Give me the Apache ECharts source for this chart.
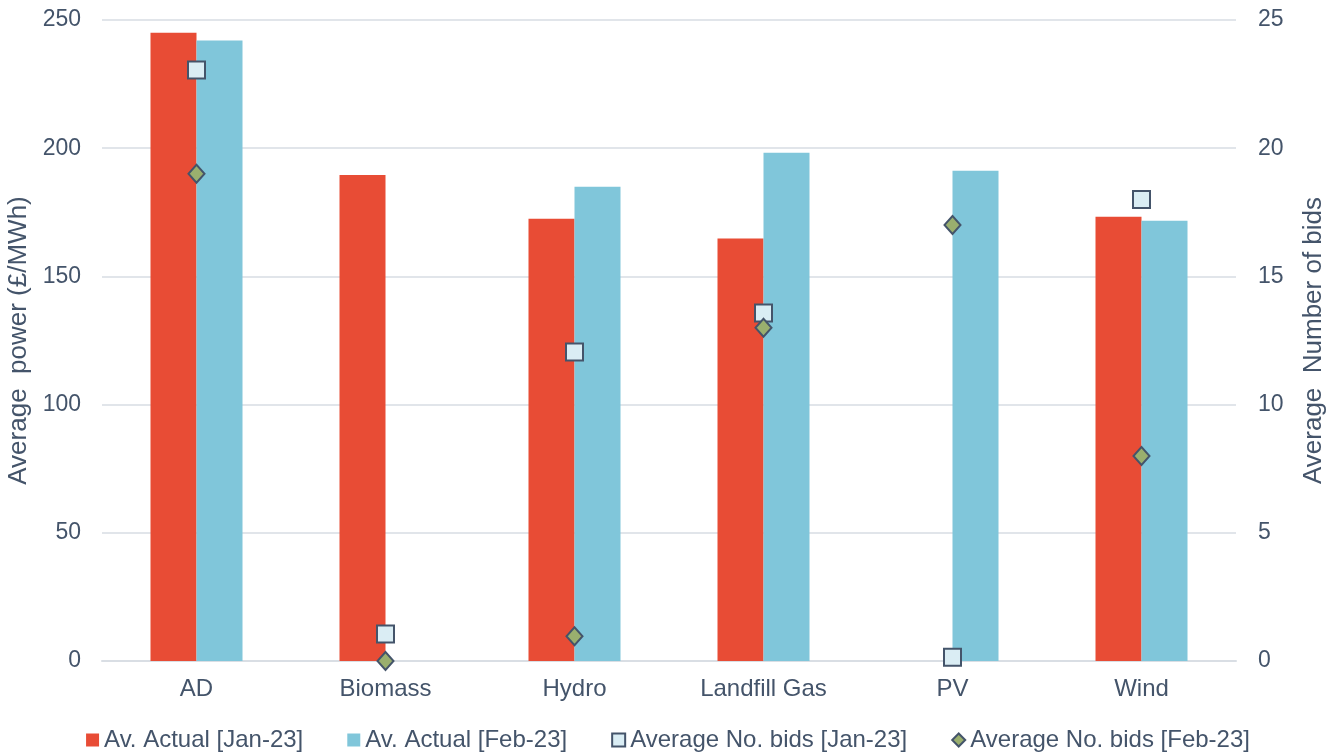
<!DOCTYPE html>
<html>
<head>
<meta charset="utf-8">
<script src="https://cdn.jsdelivr.net/npm/echarts@6/dist/echarts.min.js"></script>
<style>html,body{margin:0;padding:0;background:#fff;}#c{width:1336px;height:755px;}</style>
</head>
<body>
<div id="c"></div>
<script>
var categories = ['AD', 'Biomass', 'Hydro', 'Landfill Gas', 'PV', 'Wind'];
var actualJan = [245, 189.5, 172.5, 164.8, null, 173.3];
var actualFeb = [242, null, 185, 198.2, 191.2, 171.7];
var bidsJan = [23.05, 1.05, 12.05, 13.57, 0.15, 18.0];
var bidsFeb = [19.0, 0.0, 0.97, 13.0, 17.0, 8.0];
var leftTicks = {min: 0, max: 250, interval: 50};
var rightTicks = {min: 0, max: 25, interval: 5};

var txt = '#44546A';
var font = 'Liberation Sans';
var chart = echarts.init(document.getElementById('c'));
chart.setOption({
  animation: false,
  textStyle: {fontFamily: font},
  grid: {left: 102, right: 100, top: 20, bottom: 94, containLabel: false, outerBoundsMode: 'none'},
  legend: {
    top: 723, left: 'center', itemWidth: 13, itemHeight: 13, itemGap: 44,
    textStyle: {color: txt, fontSize: 24, fontFamily: font},
    data: [
      {name: 'Av. Actual [Jan-23]', icon: 'rect'},
      {name: 'Av. Actual [Feb-23]', icon: 'rect'},
      {name: 'Average No. bids [Jan-23]', icon: 'rect'},
      {name: 'Average No. bids [Feb-23]', icon: 'diamond'}
    ]
  },
  xAxis: {
    type: 'category', data: categories,
    axisLine: {lineStyle: {color: '#D9DEE4', width: 2}},
    axisTick: {show: false},
    axisLabel: {color: txt, fontSize: 24, margin: 16, fontFamily: font}
  },
  yAxis: [
    {type: 'value', min: leftTicks.min, max: leftTicks.max, interval: leftTicks.interval,
     name: 'Average  power (£/MWh)', nameLocation: 'middle', nameGap: 64, nameRotate: 90,
     nameTextStyle: {color: txt, fontSize: 26, fontFamily: font},
     axisLabel: {color: txt, fontSize: 23, margin: 21, fontFamily: font},
     axisLine: {show: false}, axisTick: {show: false},
     splitLine: {lineStyle: {color: '#E1E5EA', width: 2}}},
    {type: 'value', min: rightTicks.min, max: rightTicks.max, interval: rightTicks.interval,
     name: 'Average  Number of bids', nameLocation: 'middle', nameGap: 65, nameRotate: 90,
     nameTextStyle: {color: txt, fontSize: 26, fontFamily: font},
     axisLabel: {color: txt, fontSize: 23, margin: 22, fontFamily: font},
     axisLine: {show: false}, axisTick: {show: false},
     splitLine: {show: false}}
  ],
  series: [
    {name: 'Av. Actual [Jan-23]', type: 'bar', yAxisIndex: 0, data: actualJan,
     barWidth: 46, barGap: '0%', itemStyle: {color: '#E84C35'}},
    {name: 'Av. Actual [Feb-23]', type: 'bar', yAxisIndex: 0, data: actualFeb,
     barWidth: 46, barGap: '0%', itemStyle: {color: '#80C6DA'}},
    {name: 'Average No. bids [Jan-23]', type: 'scatter', yAxisIndex: 1, data: bidsJan,
     symbol: 'rect', symbolSize: 17, z: 5,
     itemStyle: {color: '#DAEDF4', borderColor: '#44546A', borderWidth: 2, opacity: 1}},
    {name: 'Average No. bids [Feb-23]', type: 'scatter', yAxisIndex: 1, data: bidsFeb,
     symbol: 'diamond', symbolSize: [16, 18], z: 6,
     itemStyle: {color: '#9AAF6E', borderColor: '#44546A', borderWidth: 2, opacity: 1}}
  ]
});
</script>
</body>
</html>
